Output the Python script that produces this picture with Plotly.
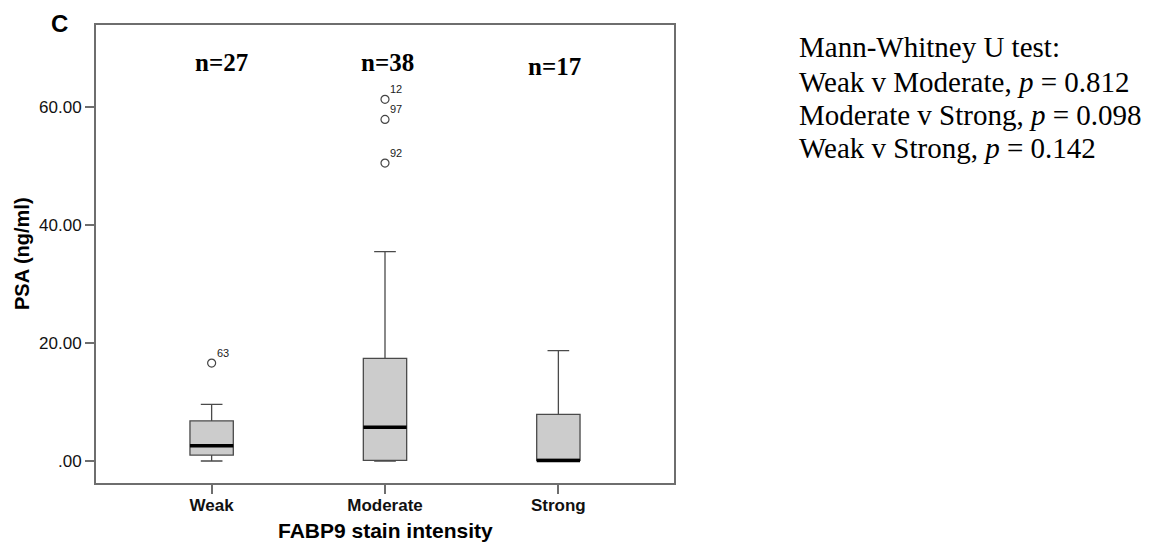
import plotly.graph_objects as go

# ---------------- data ----------------
categories = ["Weak", "Moderate", "Strong"]
q1_vals = [1.0, 0.1, 0.1]
median_vals = [2.6, 5.7, 0.1]
q3_vals = [6.8, 17.4, 7.9]
lower_fence = [0.0, 0.0, 0.0]
upper_fence = [9.6, 35.5, 18.7]
n_counts = [27, 38, 17]
n_label_x = [0.054, 1.017, 1.98]
n_label_y = [67.5, 67.6, 66.9]

outlier_group = [0, 1, 1, 1]
outlier_values = [16.6, 61.3, 57.9, 50.5]
outlier_ids = ["63", "12", "97", "92"]

y_tickvals = [0, 20, 40, 60]
y_ticktext = [".00", "20.00", "40.00", "60.00"]

stats_title = "Mann-Whitney U test:"
stats_lines = [
    "Weak v Moderate, <i>p</i> = 0.812",
    "Moderate v Strong, <i>p</i> = 0.098",
    "Weak v Strong, <i>p</i> = 0.142",
]

# ---------------- style ----------------
W, H = 1155, 546
PL, PR, PT, PB = 96, 674, 25, 483
BOX_W = 0.25
BOX_FILL = "#cccccc"
BOX_LINE = "#4a4a4a"
FRAME = "#6e6e6e"
SANS = "Liberation Sans, Arial"
SERIF = "Liberation Serif, Times New Roman"


def px_x(px):
    return (px - PL) / (PR - PL)


def px_y(py):
    return (PB - py) / (PB - PT)


fig = go.Figure()

for i, cat in enumerate(categories):
    fig.add_trace(go.Box(
        x=[i], q1=[q1_vals[i]], median=[median_vals[i]], q3=[q3_vals[i]],
        lowerfence=[lower_fence[i]], upperfence=[upper_fence[i]],
        width=BOX_W, whiskerwidth=0.5, boxpoints=False,
        fillcolor=BOX_FILL, line=dict(color=BOX_LINE, width=1.3),
        showlegend=False, hoverinfo="skip",
    ))
    # thick median line
    fig.add_trace(go.Scatter(
        x=[i - BOX_W / 2, i + BOX_W / 2], y=[median_vals[i], median_vals[i]],
        mode="lines", line=dict(color="black", width=3.5),
        showlegend=False, hoverinfo="skip",
    ))

fig.add_trace(go.Scatter(
    x=outlier_group, y=outlier_values, mode="markers",
    marker=dict(symbol="circle-open", size=8, color="#444", line=dict(width=1.2)),
    showlegend=False, hoverinfo="skip",
))

annotations = []
# outlier case labels
for g, v, lab in zip(outlier_group, outlier_values, outlier_ids):
    annotations.append(dict(
        x=g, y=v, xref="x", yref="y", text=lab, showarrow=False,
        xanchor="left", yanchor="middle", xshift=3, yshift=10,
        font=dict(family=SANS, size=11, color="#222"),
    ))

for i, n in enumerate(n_counts):
    annotations.append(dict(
        x=n_label_x[i], y=n_label_y[i], xref="x", yref="y", text=f"<b>n={n}</b>",
        showarrow=False, font=dict(family=SERIF, size=25, color="black"),
        xanchor="center", yanchor="middle",
    ))

# stats text block
stat_rows = [stats_title] + stats_lines
stat_centers = [47, 81.5, 114.5, 147.5]
for txt, cy in zip(stat_rows, stat_centers):
    annotations.append(dict(
        x=px_x(797), y=px_y(cy), xref="paper", yref="paper", text=txt,
        showarrow=False, xanchor="left", yanchor="middle",
        font=dict(family=SERIF, size=29, color="black"),
    ))

# panel letter
annotations.append(dict(
    x=px_x(59), y=px_y(23.5), xref="paper", yref="paper", text="<b>C</b>",
    showarrow=False, xanchor="center", yanchor="middle",
    font=dict(family=SANS, size=24, color="black"),
))
# axis titles
annotations.append(dict(
    x=px_x(22), y=px_y(254), xref="paper", yref="paper", text="<b>PSA (ng/ml)</b>",
    showarrow=False, xanchor="center", yanchor="middle", textangle=-90,
    font=dict(family=SANS, size=20, color="black"),
))
annotations.append(dict(
    x=px_x(385), y=px_y(530), xref="paper", yref="paper", text="<b>FABP9 stain intensity</b>",
    showarrow=False, xanchor="center", yanchor="middle",
    font=dict(family=SANS, size=21, color="black"),
))

fig.update_layout(
    width=W, height=H,
    margin=dict(l=PL, r=W - PR, t=PT, b=H - PB, autoexpand=False),
    paper_bgcolor="white", plot_bgcolor="white",
    annotations=annotations,
    xaxis=dict(
        range=[-0.667, 2.667], tickvals=list(range(len(categories))), ticktext=categories,
        showgrid=False, zeroline=False, showline=True, mirror=True,
        linecolor=FRAME, linewidth=2, ticks="outside", ticklen=9, tickwidth=1.5,
        tickcolor=FRAME, ticklabelstandoff=-3,
        tickfont=dict(family=SANS, size=17, color="#111", weight="bold"),
    ),
    yaxis=dict(
        range=[-3.73, 73.9], tickvals=y_tickvals, ticktext=y_ticktext,
        showgrid=False, zeroline=False, showline=True, mirror=True,
        linecolor=FRAME, linewidth=2, ticks="outside", ticklen=9, tickwidth=1.5,
        tickcolor=FRAME,
        tickfont=dict(family=SANS, size=17, color="#111"),
    ),
)

fig.write_html("out.html", config={"displayModeBar": False},
               post_script="document.body.style.margin='0';")
